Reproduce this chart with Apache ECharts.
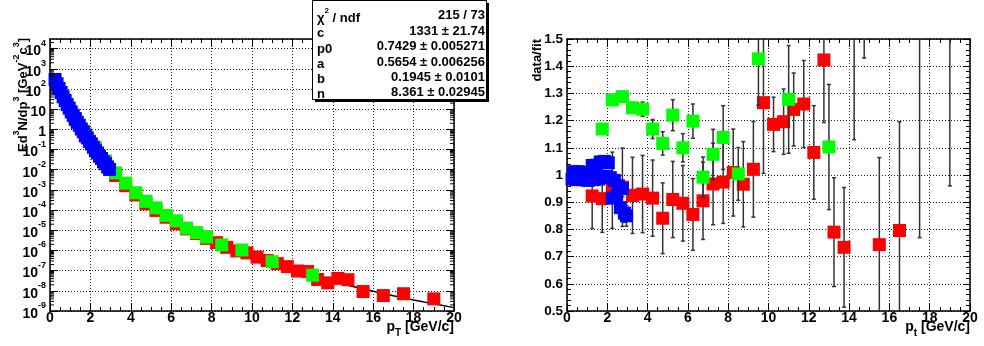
<!DOCTYPE html>
<html><head><meta charset="utf-8">
<script src="https://cdn.jsdelivr.net/npm/echarts@6/dist/echarts.min.js"></script>
<style>html,body{margin:0;padding:0;background:#fff}#c{width:984px;height:346px}</style>
</head><body><div id="c"></div>
<script>
// ---------- Left panel: invariant yield vs pT ----------
const bluePt = [0.25,0.35,0.45,0.55,0.65,0.75,0.85,0.95,1.05,1.15,1.25,1.35,1.45,1.55,1.65,1.75,1.85,1.95,2.05,2.15,2.25,2.35,2.45,2.55,2.65,2.75,2.85,2.95];
const blueYield = [297,179.9,105.7,67.2,41.07,26.96,16.97,11.27,7.31,4.944,3.456,2.224,1.600,1.045,0.7704,0.5079,0.3786,0.2541,0.1904,0.1297,0.0868,0.0678,0.0468,0.03616,0.02472,0.02006,0.01373,0.01034];
const redPt = [1.25,1.75,2.25,2.75,3.25,3.75,4.25,4.75,5.25,5.75,6.25,6.75,7.25,7.75,8.25,8.75,9.25,9.75,10.25,10.75,11.25,11.75,12.25,12.75,13.25,13.75,14.25,14.75,15.5,16.5,17.5,19];
const redYield = [3.083,0.4685,0.0896,0.02016,5.18e-3,1.616e-3,5.63e-4,2.049e-4,9.61e-5,4.42e-5,2.102e-5,1.169e-5,6.87e-6,3.964e-6,2.435e-6,1.426e-6,9.46e-7,7.55e-7,4.66e-7,3.155e-7,2.239e-7,1.582e-7,9.58e-8,9.02e-8,3.63e-8,2.474e-8,4.124e-8,3.559e-8,9.21e-9,5.84e-9,7.18e-9,3.995e-9];
const greenPt = [1.75,2.25,2.75,3.25,3.75,4.25,4.75,5.25,5.75,6.25,6.75,7.25,7.75,8.5,9.5,11,13];
const greenYield = [0.5995,0.1211,0.02719,6.98e-3,2.159e-3,7.20e-4,2.719e-4,1.288e-4,5.43e-5,2.945e-5,1.282e-5,7.65e-6,4.63e-6,1.888e-6,1.058e-6,2.782e-7,5.94e-8];
const fitPt = [0.25,0.5,1,1.5,2,2.5,3,4,5,6,7,8,9,10,11,12,13,14,15,16,17,18,19,20];
const fitYield = [301,84.4,9.16,1.279,0.2155,0.04375,0.01066,1.019e-3,1.588e-4,3.458e-5,9.533e-6,3.121e-6,1.166e-6,4.83e-7,2.177e-7,1.052e-7,5.384e-8,2.9e-8,1.628e-8,9.497e-9,5.72e-9,3.545e-9,2.258e-9,1.469e-9];

// ---------- Right panel: data / fit ----------
const blueRatio = [0.985,1.012,0.983,1.012,0.983,1.01,0.983,0.998,0.98,0.995,1.035,0.983,1.036,0.985,1.048,0.99,1.05,0.995,1.045,0.99,0.915,0.98,0.92,0.96,0.88,0.95,0.86,0.85];
const blueErr = [0.004,0.004,0.004,0.005,0.005,0.005,0.006,0.006,0.007,0.007,0.008,0.008,0.009,0.01,0.01,0.011,0.012,0.013,0.014,0.015,0.017,0.019,0.021,0.024,0.027,0.03,0.034,0.038];
const redRatio = [0.923,0.913,0.944,0.955,0.925,0.93,0.915,0.841,0.91,0.896,0.855,0.905,0.967,0.974,1.009,0.966,1.021,1.266,1.186,1.196,1.241,1.261,1.083,1.423,0.79,0.734,1.65,1.9,0.744,0.796,1.6,1.77];
const redErr = [0.12,0.124,0.14,0.144,0.14,0.142,0.14,0.13,0.14,0.139,0.132,0.142,0.15,0.152,0.16,0.157,0.176,0.26,0.10,0.12,0.134,0.16,0.172,0.23,0.2,0.22,0.52,0.47,0.32,0.40,0.83,0.81];
const greenRatio = [1.169,1.276,1.288,1.247,1.242,1.169,1.116,1.22,1.1,1.198,0.992,1.076,1.138,1.004,1.427,1.278,1.103];
const greenErr = [0.008,0.01,0.014,0.02,0.026,0.035,0.043,0.057,0.052,0.063,0.074,0.092,0.117,0.097,0.17,0.198,0.23];

// ---------- Fit statistics box ----------
const statLabels = ['{c|\u03c7}{s|2}{n| / ndf}','c','p0','a','b','n'];
const statValues = ['215 / 73','1331 \u00b1 21.74','0.7429 \u00b1 0.005271','0.5654 \u00b1 0.006256','0.1945 \u00b1 0.0101','8.361 \u00b1 0.02945'];

// ---------- Axis settings ----------
const xMin = 0, xMax = 20, xStep = 2;
const logMin = 1e-9, logMax = 3e4;
const ratioMin = 0.5, ratioMax = 1.5, ratioStep = 0.1;

const F = '"Liberation Sans", Arial, Helvetica, sans-serif';
const zip = (a, b) => a.map((v, i) => [v, b[i]]);
const zip3 = (a, b, c) => a.map((v, i) => [v, b[i], c[i]]);

const supRich = {
  b: {fontSize: 14, fontWeight: 'bold', fontFamily: F, color: '#000', lineHeight: 20, verticalAlign: 'bottom'},
  s: {fontSize: 9, fontWeight: 'bold', fontFamily: F, color: '#000', lineHeight: 9, verticalAlign: 'top'}
};

const frameLine = {show: true, onZero: false, lineStyle: {color: '#000', width: 1.5}};
const gridDots = {show: true, lineStyle: {color: '#222', type: [1, 2], width: 1}};
const tick = {show: true, inside: true, length: 8, lineStyle: {color: '#000', width: 1}};

function xAx(grid, pos, main) {
  return {
    type: 'value', gridIndex: grid, position: pos, min: xMin, max: xMax, interval: xStep,
    axisLine: frameLine, axisTick: tick,
    minorTick: {show: true, splitNumber: 4, length: 4, lineStyle: {color: '#000', width: 1}},
    axisLabel: main ? {show: true, margin: 0, fontSize: 14, fontWeight: 'bold', color: '#000', fontFamily: F} : {show: false},
    splitLine: main ? gridDots : {show: false}
  };
}
function logAx(pos, main) {
  return {
    type: 'log', logBase: 10, gridIndex: 0, position: pos, min: logMin, max: logMax, interval: 1,
    axisLine: frameLine, axisTick: tick, minorTick: {show: false},
    axisLabel: main ? {
      show: true, margin: 4, rich: supRich,
      formatter: v => {
        const e = Math.round(Math.log10(v));
        if (e === 0) return '{b|1}';
        if (e === 1) return '{b|10}';
        return '{b|10}{s|' + e + '}';
      }
    } : {show: false},
    splitLine: main ? gridDots : {show: false}
  };
}
function ratioAx(pos, main) {
  return {
    type: 'value', gridIndex: 1, position: pos, min: ratioMin, max: ratioMax, interval: ratioStep,
    axisLine: frameLine, axisTick: {show: true, inside: true, length: 7, lineStyle: {color: '#000', width: 1}},
    minorTick: {show: true, splitNumber: 5, length: 4, lineStyle: {color: '#000', width: 1}},
    axisLabel: main ? {show: true, margin: 4, fontSize: 13.5, fontWeight: 'bold', color: '#000', fontFamily: F,
      formatter: v => String(Math.round(v * 10) / 10)} : {show: false},
    splitLine: main ? gridDots : {show: false}
  };
}

// minor ticks of the log axis (2..9 x 10^k), drawn on both frame sides
const logMinor = [];
for (let e = -9; e <= 4; e++) for (let d = 2; d <= 9; d++) { const v = d * Math.pow(10, e); if (v < logMax) logMinor.push([xMin, v]); }

function minorTickRender(params, api) {
  const v = api.value(1);
  const pl = api.coord([xMin, v]), pr = api.coord([xMax, v]);
  const st = {stroke: '#000', lineWidth: 1};
  return {type: 'group', children: [
    {type: 'line', shape: {x1: pl[0], y1: pl[1], x2: pl[0] + 4, y2: pl[1]}, style: st},
    {type: 'line', shape: {x1: pr[0] - 4, y1: pr[1], x2: pr[0], y2: pr[1]}, style: st}
  ]};
}
function errRender(params, api) {
  const x = api.value(0), y = api.value(1), e = api.value(2);
  const t = api.coord([x, y + e]), b = api.coord([x, y - e]);
  const st = {stroke: '#333', lineWidth: 1.5};
  const cap = 2;
  return {type: 'group', children: [
    {type: 'line', shape: {x1: t[0], y1: t[1], x2: b[0], y2: b[1]}, style: st},
    {type: 'line', shape: {x1: t[0] - cap, y1: t[1], x2: t[0] + cap, y2: t[1]}, style: st},
    {type: 'line', shape: {x1: b[0] - cap, y1: b[1], x2: b[0] + cap, y2: b[1]}, style: st}
  ]};
}
function scat(xi, yi, data, color, z) {
  return {type: 'scatter', xAxisIndex: xi, yAxisIndex: yi, data: data, symbol: 'rect', symbolSize: 13,
    itemStyle: {color: color, opacity: 1}, clip: true, z: z, silent: true, emphasis: {disabled: true}};
}
function errs(data, z) {
  return {type: 'custom', xAxisIndex: 2, yAxisIndex: 2, data: data, renderItem: errRender, clip: true, z: z, silent: true};
}

const rowY = [15.5, 31, 46.5, 62, 77, 92];
const statRich = {
  c: {fontSize: 13, fontWeight: 'bold', fontFamily: F, color: '#000', lineHeight: 18, verticalAlign: 'bottom'},
  s: {fontSize: 8, fontWeight: 'bold', fontFamily: F, color: '#000', lineHeight: 8, verticalAlign: 'top'},
  n: {fontSize: 13, fontWeight: 'bold', fontFamily: F, color: '#000', lineHeight: 18, verticalAlign: 'bottom'}
};
const graphics = [
  {type: 'rect', shape: {x: 315, y: 3, width: 174, height: 99}, style: {fill: '#000'}, z: 100},
  {type: 'rect', shape: {x: 312.5, y: 0.5, width: 174, height: 99}, style: {fill: '#fff', stroke: '#000', lineWidth: 1}, z: 101}
];
statLabels.forEach((t, i) => {
  graphics.push({type: 'text', x: 317, y: rowY[i], z: 102,
    style: {text: t.startsWith('{') ? t : '{n|' + t + '}', rich: statRich, align: 'left', verticalAlign: 'middle'}});
  graphics.push({type: 'text', x: 485, y: rowY[i], z: 102,
    style: {text: statValues[i], font: 'bold 13px ' + F, fill: '#000', align: 'right', verticalAlign: 'middle'}});
});
const titleRich = {
  m: {fontSize: 14, fontWeight: 'bold', fontFamily: F, color: '#000', lineHeight: 18, verticalAlign: 'top'},
  t: {fontSize: 10, fontWeight: 'bold', fontFamily: F, color: '#000', lineHeight: 10, verticalAlign: 'bottom'}
};
const yRich = {
  m: {fontSize: 13, fontWeight: 'bold', fontFamily: F, color: '#000', lineHeight: 18, verticalAlign: 'bottom'},
  u: {fontSize: 9, fontWeight: 'bold', fontFamily: F, color: '#000', lineHeight: 9, verticalAlign: 'top'}
};
graphics.push(
  {type: 'text', x: 454, y: 329, z: 102, style: {text: '{m|p}{t|T}{m| [GeV/c]}', rich: titleRich, align: 'right', verticalAlign: 'middle'}},
  {type: 'text', x: 970, y: 329, z: 102, style: {text: '{m|p}{t|t}{m| [GeV/c]}', rich: titleRich, align: 'right', verticalAlign: 'middle'}},
  {type: 'text', x: 21, y: 38, rotation: Math.PI / 2, z: 102,
    style: {text: '{m|Ed}{u|3}{m|N/dp}{u|3}{m| [GeV}{u|-2}{m|c}{u|3}{m|]}', rich: yRich, align: 'right', verticalAlign: 'middle'}},
  {type: 'text', x: 537, y: 39, rotation: Math.PI / 2, z: 102,
    style: {text: 'data/fit', font: 'bold 13px ' + F, fill: '#000', align: 'right', verticalAlign: 'middle'}}
);

const option = {
  animation: false,
  backgroundColor: '#fff',
  grid: [
    {left: 50, top: 39, width: 404, height: 272, containLabel: false},
    {left: 567, top: 39, width: 403, height: 272, containLabel: false}
  ],
  xAxis: [xAx(0, 'bottom', true), xAx(0, 'top', false), xAx(1, 'bottom', true), xAx(1, 'top', false)],
  yAxis: [logAx('left', true), logAx('right', false), ratioAx('left', true), ratioAx('right', false)],
  graphic: {elements: graphics},
  series: [
    {type: 'line', xAxisIndex: 0, yAxisIndex: 0, data: zip(fitPt, fitYield), showSymbol: false, symbol: 'none',
      lineStyle: {color: '#000', width: 1.5}, clip: true, z: 2, silent: true},
    scat(0, 0, zip(redPt, redYield), '#ff0000', 3),
    scat(0, 0, zip(greenPt, greenYield), '#00ff00', 4),
    scat(0, 0, zip(bluePt, blueYield), '#0000ff', 5),
    {type: 'custom', xAxisIndex: 0, yAxisIndex: 0, data: logMinor, renderItem: minorTickRender, z: 9, silent: true},
    errs(zip3(redPt, redRatio, redErr), 3),
    scat(2, 2, zip(redPt, redRatio), '#ff0000', 4),
    errs(zip3(greenPt, greenRatio, greenErr), 5),
    scat(2, 2, zip(greenPt, greenRatio), '#00ff00', 6),
    errs(zip3(bluePt, blueRatio, blueErr), 7),
    scat(2, 2, zip(bluePt, blueRatio), '#0000ff', 8)
  ]
};
const chart = echarts.init(document.getElementById('c'));
chart.setOption(option);
</script>
</body></html>
